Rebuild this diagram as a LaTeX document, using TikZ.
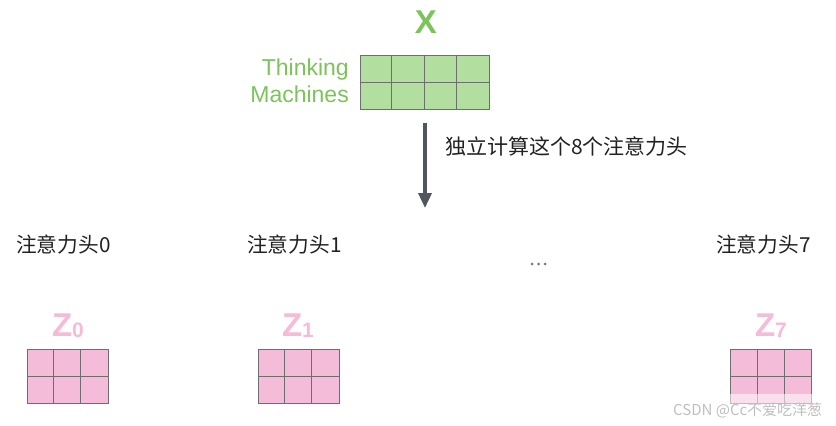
\documentclass[tikz,border=0pt]{standalone}
\usepackage{fontspec}
\setmainfont{Liberation Sans}
\newfontfamily\cjk{Noto Sans CJK SC}
\usetikzlibrary{arrows.meta}
\definecolor{gtext}{HTML}{7CC45A}
\definecolor{gfill}{HTML}{B2DEA0}
\definecolor{ptext}{HTML}{F5BCD8}
\definecolor{pfill}{HTML}{F4BCD9}
\definecolor{gline}{HTML}{6E6E6E}
\definecolor{arrcol}{HTML}{50565E}
\definecolor{txt}{HTML}{222222}
\tikzset{
  gridbox/.style={draw=gline, line width=0.9pt, inner sep=0pt, minimum height=54pt},
  greenbox/.style={gridbox, fill=gfill, minimum width=129pt},
  pinkbox/.style={gridbox, fill=pfill, minimum width=81pt},
  headlabel/.style={inner sep=0pt, anchor=west, text=txt, font=\cjk\fontsize{20.7}{24}\selectfont},
  zlabel/.style={inner sep=0pt, anchor=base, text=ptext, font=\bfseries\fontsize{33}{36}\selectfont},
  gword/.style={inner sep=0pt, anchor=base east, text=gtext, font=\fontsize{23}{27}\selectfont},
  arr/.style={draw=arrcol, line width=3.5pt, -{Triangle[length=15pt,width=13pt]}},
  dot/.style={circle, fill=arrcol!80, inner sep=0pt, minimum size=3pt}
}
\newcommand{\zsub}[1]{\raisebox{-1pt}{\fontsize{21}{24}\selectfont #1}}
\begin{document}
\begin{tikzpicture}[x=1pt,y=-1pt]
\useasboundingbox (0,0) rectangle (836,426);
\fill[white] (0,0) rectangle (836,426);
% X input
\node[inner sep=0pt, anchor=base, text=gtext, font=\bfseries\fontsize{33}{36}\selectfont] (xlab) at (426,33) {X};
\node[greenbox] (xgrid) at (424.5,82) {};
\foreach \i in {1,2,3} \draw[gline, line width=0.9pt] ([xshift=\i*32.25pt]xgrid.north west) -- ([xshift=\i*32.25pt]xgrid.south west);
\draw[gline, line width=0.9pt] (xgrid.west) -- (xgrid.east);
\node[gword] (w1) at (349,75) {Thinking};
\node[gword] (w2) at (349,102) {Machines};
% arrow
\coordinate (atop) at (425,123);
\coordinate (abot) at (425,208);
\draw[arr] (atop) -- (abot);
\node[headlabel, font=\cjk\fontsize{21}{24}\selectfont] (atext) at (445,146) {独立计算这个8个注意力头};
% heads
\node[headlabel] (h0) at (16,245) {注意力头0};
\node[headlabel] (h1) at (247,245) {注意力头1};
\node[headlabel] (h7) at (716,245) {注意力头7};
\node[dot] (d1) at (532,264) {};
\node[dot] (d2) at (538.5,264) {};
\node[dot] (d3) at (545,264) {};
% Z labels
\node[zlabel] (z0) at (68,336) {Z\zsub{0}};
\node[zlabel] (z1) at (298,336) {Z\zsub{1}};
\node[zlabel] (z7) at (771,336) {Z\zsub{7}};
% pink grids
\foreach \n/\cx in {p0/67.5, p1/298.5, p7/771} {
  \node[pinkbox] (\n) at (\cx,376) {};
  \foreach \i in {1,2} \draw[gline, line width=0.9pt] ([xshift=\i*27pt]\n.north west) -- ([xshift=\i*27pt]\n.south west);
  \draw[gline, line width=0.9pt] (\n.west) -- (\n.east);
}
% watermark
\fill[white, opacity=0.55] (662,394) rectangle (830,426);
\node[inner sep=0pt, anchor=west, text=gray!50, font=\cjk\fontsize{15}{18}\selectfont] (wm) at (673,410) {CSDN @Cc不爱吃洋葱};
\end{tikzpicture}
\end{document}
